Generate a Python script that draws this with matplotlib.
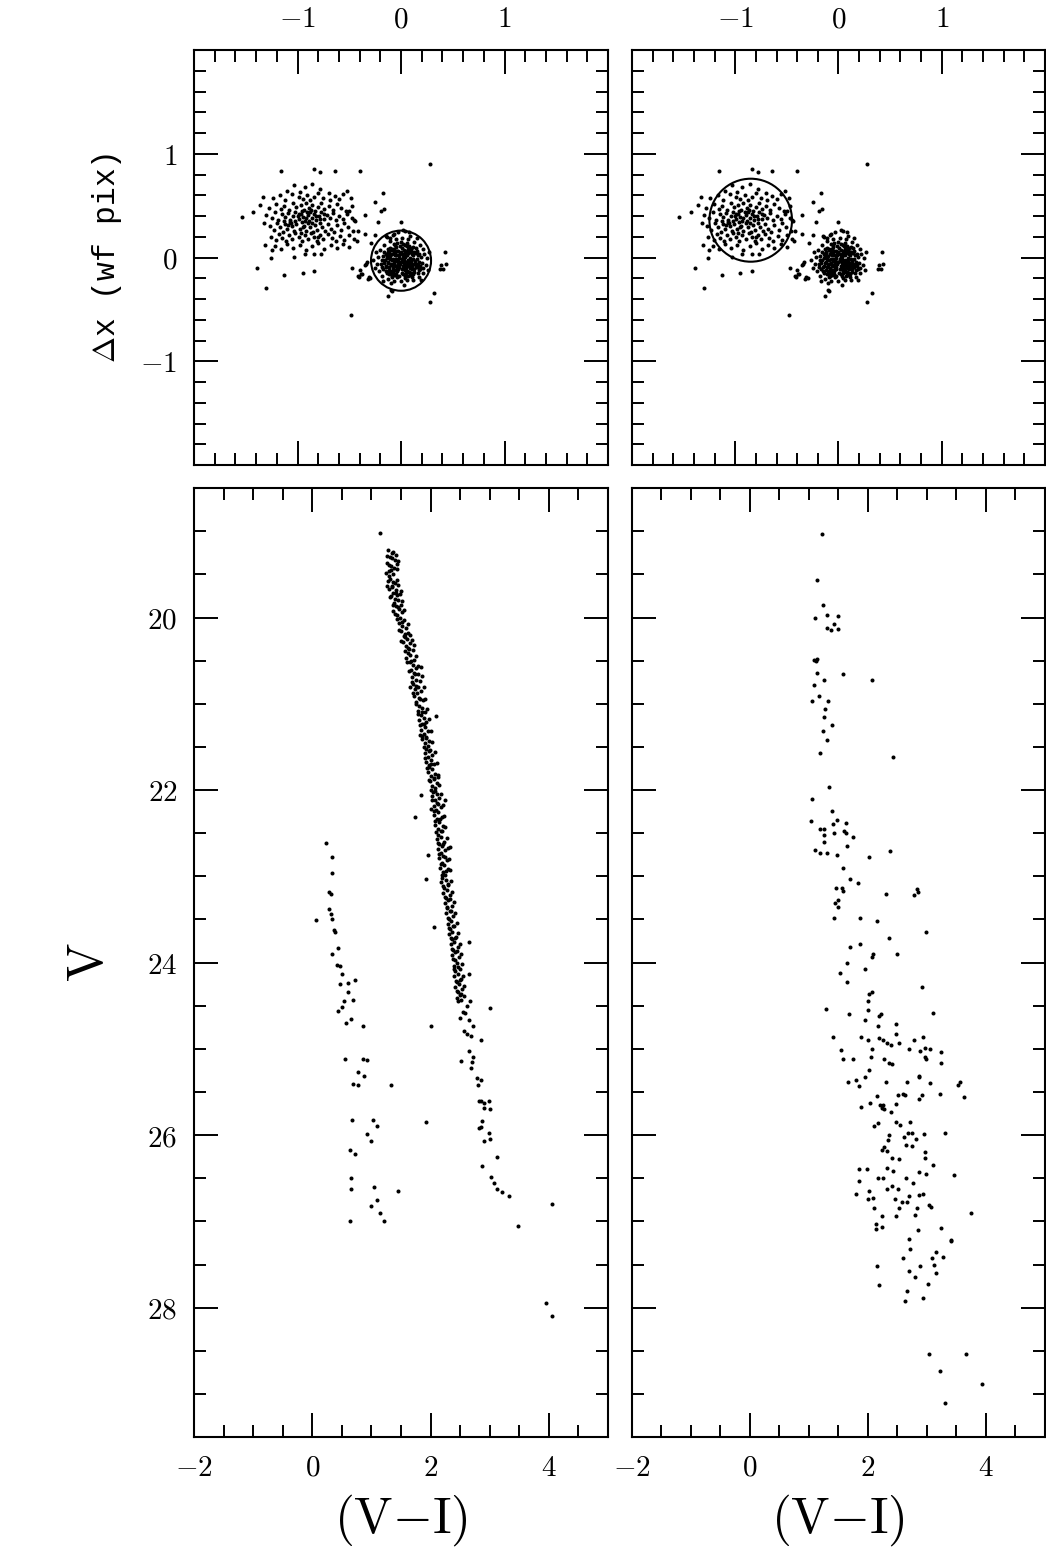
import matplotlib
matplotlib.use("Agg")
import matplotlib.pyplot as plt
from matplotlib.ticker import MultipleLocator, FuncFormatter

plt.rcParams['mathtext.fontset'] = 'cm'
plt.rcParams['font.family'] = ['DejaVu Serif']

# ---------------- top panels: offsets (same stars in both panels) ----------------
dx_loose = [0.28, -1.16, -0.84, -0.78, -0.64, -0.40, -1.54, -1.43, -1.33, -1.36, -1.32, -1.31, -1.25,
            -1.26, -1.39, -1.30, -1.13, -0.95, -0.84, -1.03, -0.93, -0.84, -0.77, -0.48, -0.47, -0.42,
            -0.39, -0.40, -0.35, -0.34, -0.31, -0.30, -0.35, -0.35, -0.42, -0.43, -0.45, -0.50, -0.25,
            -0.17, -0.19, -0.16, -0.22, -0.29, -0.25, -0.13, -0.09, 0.28, 0.32, 0.38, 0.39, 0.42, 0.00,
            0.02, 0.08, -0.15, -0.11, -0.07, -0.03, 0.04, 0.43, 0.41, -0.10, -0.32, -0.33, -0.41, -0.38]
dy_loose = [0.90, 0.83, 0.85, 0.82, 0.83, 0.83, 0.39, 0.44, 0.58, 0.51, 0.33, 0.125, 0.07,
            0.00, -0.10, -0.29, -0.17, -0.15, -0.125, 0.01, 0.03, 0.03, 0.03, -0.55, -0.10, -0.18,
            -0.16, -0.12, -0.07, -0.06, -0.19, -0.20, 0.41, 0.23, 0.26, 0.16, 0.36, 0.45, 0.54,
            0.62, 0.45, 0.47, 0.34, 0.14, 0.22, -0.37, -0.32, -0.43, -0.34, -0.11, -0.07, 0.05, 0.34,
            0.27, 0.25, 0.21, 0.19, 0.23, 0.25, 0.26, -0.06, -0.11, -0.31, -0.21, -0.04, -0.19, -0.16]

dx_group = [-1.03, -0.93, -0.86, -0.78, -1.10, -0.70, -0.98, -0.52,
            -1.24, -1.17, -1.12, -1.05, -0.99, -0.95, -0.91, -0.88, -0.84, -0.80, -0.75, -0.69, -0.64, -0.60, -0.56, -0.48,
            -1.28, -1.21, -1.16, -1.13, -1.08, -1.04, -1.01, -0.97, -0.94, -0.92, -0.89, -0.86, -0.83, -0.80, -0.77,
            -0.74, -0.70, -0.66, -0.62, -0.58, -0.53, -0.47,
            -1.30, -1.25, -1.22, -1.19, -1.15, -1.12, -1.09, -1.07, -1.04, -1.02, -0.99, -0.97, -0.95, -0.93, -0.90,
            -0.88, -0.86, -0.84, -0.82, -0.79, -0.77, -0.74, -0.72, -0.69, -0.66, -0.63, -0.60, -0.56, -0.52, -0.47, -0.44,
            -1.27, -1.23, -1.20, -1.17, -1.14, -1.12, -1.10, -1.07, -1.05, -1.03, -1.01, -0.98, -0.96, -0.94, -0.92,
            -0.90, -0.88, -0.85, -0.83, -0.81, -0.78, -0.76, -0.73, -0.71, -0.68, -0.65, -0.62, -0.58, -0.55, -0.51, -0.46,
            -1.26, -1.21, -1.18, -1.15, -1.11, -1.08, -1.05, -1.02, -0.99, -0.96, -0.93, -0.90, -0.87, -0.84, -0.81,
            -0.78, -0.75, -0.71, -0.67, -0.63, -0.59, -0.55, -0.50, -0.45,
            -1.22, -1.16, -1.10, -1.04, -0.98, -0.92, -0.86, -0.80, -0.74, -0.68, -0.62, -0.56, -0.50,
            -1.00, -0.96, -0.92, -0.89, -1.06, -0.99, -0.87, -1.09, -0.95, -0.82, -0.78, -1.02, -0.91, -0.86, -0.97,
            -0.80, -1.13, -0.74]
dy_group = [0.70, 0.68, 0.71, 0.66, 0.64, 0.62, 0.63, 0.64,
            0.57, 0.60, 0.55, 0.61, 0.58, 0.56, 0.60, 0.55, 0.58, 0.62, 0.57, 0.55, 0.59, 0.56, 0.61, 0.57,
            0.48, 0.52, 0.47, 0.50, 0.46, 0.53, 0.49, 0.51, 0.46, 0.53, 0.48, 0.51, 0.45, 0.49, 0.53,
            0.47, 0.50, 0.46, 0.52, 0.48, 0.45, 0.50,
            0.41, 0.38, 0.44, 0.36, 0.42, 0.39, 0.43, 0.36, 0.40, 0.44, 0.37, 0.42, 0.39, 0.35, 0.41,
            0.44, 0.38, 0.42, 0.36, 0.40, 0.44, 0.37, 0.41, 0.38, 0.43, 0.36, 0.40, 0.37, 0.42, 0.38, 0.35,
            0.30, 0.27, 0.33, 0.29, 0.25, 0.32, 0.28, 0.34, 0.30, 0.26, 0.32, 0.28, 0.34, 0.30, 0.26,
            0.33, 0.29, 0.25, 0.31, 0.27, 0.33, 0.29, 0.26, 0.32, 0.28, 0.25, 0.31, 0.27, 0.33, 0.29, 0.26,
            0.20, 0.17, 0.23, 0.19, 0.16, 0.22, 0.18, 0.24, 0.20, 0.16, 0.22, 0.18, 0.24, 0.20, 0.16,
            0.22, 0.18, 0.23, 0.19, 0.16, 0.21, 0.17, 0.22, 0.18,
            0.11, 0.08, 0.13, 0.09, 0.12, 0.07, 0.11, 0.14, 0.08, 0.12, 0.09, 0.13, 0.10,
            0.40, 0.45, 0.38, 0.35, 0.33, 0.42, 0.46, 0.31, 0.29, 0.40, 0.37, 0.35, 0.44, 0.33, 0.24,
            0.20, 0.35, 0.42]

dx_core = [0.00, 0.03, -0.03, 0.05, -0.05, 0.02, -0.02, 0.07, -0.07, 0.01, -0.01, 0.06, -0.06, 0.08, -0.08,
           0.04, -0.04, 0.09, -0.09, 0.00, 0.03, -0.03, 0.05, -0.05, 0.02, -0.02, 0.07, -0.07, 0.10, -0.10,
           0.01, -0.01, 0.04, -0.04, 0.06, -0.06,
           0.12, 0.14, 0.11, 0.13, 0.16, 0.15, 0.17, 0.10, 0.08, 0.04, -0.01, -0.05, -0.09, -0.12, -0.14,
           -0.13, -0.15, -0.12, -0.10, -0.06, -0.02, 0.02, 0.07, 0.10, 0.13, 0.18, 0.19, 0.15, 0.12, 0.06,
           0.00, -0.07, -0.11, -0.16, -0.18, -0.17, -0.14, -0.09, 0.04, 0.11, 0.16, 0.20, 0.09, -0.08, 0.14,
           -0.13, -0.11, 0.11, 0.08, -0.04, 0.02, -0.15, 0.17, -0.19, 0.21,
           0.22, 0.24, 0.21, 0.18, 0.13, 0.07, 0.01, -0.05, -0.11, -0.16, -0.20, -0.22, -0.23, -0.21, -0.18,
           -0.13, -0.07, 0.00, 0.06, 0.12, 0.17, 0.21, 0.25, 0.26, -0.25, -0.24, 0.09, -0.08, 0.19, -0.17,
           0.27, -0.27, 0.03, -0.10, 0.15, -0.14,
           0.015, -0.015, 0.035, -0.035, 0.055, -0.055, 0.075, -0.075, 0.095, -0.095, 0.115, -0.115, 0.135, -0.135,
           0.025, -0.025, 0.045, -0.045, 0.085, -0.085, 0.105, -0.105, 0.125, -0.125, 0.145, -0.145, 0.065, -0.065,
           0.005, 0.155, -0.155, 0.025, -0.025, 0.065, -0.065, 0.045, -0.045, 0.085, -0.085, 0.105, -0.105, 0.125,
           -0.125, 0.015, -0.015, 0.035, -0.035, 0.055, -0.055, 0.075, -0.075, 0.165, -0.165, 0.005, 0.095, -0.095,
           0.115, -0.115, 0.035, -0.035, 0.145, -0.145, 0.175, -0.175, 0.185, -0.185, 0.055, -0.055, 0.085, -0.085]
dy_core = [-0.04, -0.02, -0.06, -0.07, -0.01, 0.01, -0.09, -0.03, -0.05, -0.11, 0.03, 0.02, 0.02, -0.08, -0.10,
           -0.12, -0.13, 0.00, -0.02, 0.05, -0.05, -0.03, -0.10, -0.08, -0.08, 0.00, 0.04, 0.05, -0.05, -0.07,
           -0.01, -0.06, 0.04, 0.06, -0.13, -0.12,
           -0.01, -0.06, 0.05, -0.11, 0.02, -0.09, -0.04, 0.09, 0.11, 0.12, 0.11, 0.10, 0.08, 0.04, 0.00,
           -0.05, -0.09, -0.12, -0.15, -0.17, -0.18, -0.16, -0.18, -0.15, -0.14, -0.08, 0.01, 0.06, 0.10, 0.14,
           0.15, 0.13, 0.09, 0.05, -0.02, -0.11, -0.15, -0.19, -0.20, -0.19, -0.15, -0.05, 0.06, -0.14, 0.09,
           0.08, -0.01, -0.08, -0.14, 0.14, 0.13, -0.13, -0.12, -0.06, -0.10,
           0.03, -0.07, 0.08, 0.12, 0.15, 0.18, 0.19, 0.18, 0.16, 0.12, 0.07, 0.01, -0.06, -0.13, -0.18,
           -0.21, -0.23, -0.23, -0.22, -0.22, -0.19, -0.15, 0.00, -0.12, -0.10, 0.05, 0.21, 0.22, -0.22, -0.23,
           0.05, -0.02, -0.26, -0.25, 0.19, 0.20,
           -0.035, -0.045, 0.005, -0.085, -0.045, -0.035, -0.065, -0.015, -0.035, -0.065, 0.025, -0.095, -0.035, 0.015,
           0.075, 0.065, -0.145, -0.155, 0.055, 0.035, -0.115, -0.125, 0.055, 0.055, -0.095, -0.085, 0.085, 0.085,
           -0.145, -0.015, -0.025, -0.115, -0.115, -0.025, -0.075, 0.035, 0.025, -0.105, -0.125, 0.035, 0.015, -0.065,
           -0.045, 0.035, 0.025, -0.095, -0.115, 0.065, 0.055, -0.135, -0.145, -0.065, -0.055, 0.095, 0.085, 0.075,
           -0.155, -0.155, -0.175, -0.185, 0.045, 0.035, 0.035, 0.015, -0.115, -0.095, 0.115, 0.125, -0.165, -0.175]

# circles: (centre x, centre y, radius)
circle_left = (0.0, -0.03, 0.29)
circle_right = (-0.85, 0.36, 0.40)

# ---------------- bottom left CMD: stars inside left circle ----------------
vi_ms = [1.28, 1.35, 1.31, 1.40, 1.26, 1.33, 1.38, 1.29, 1.36, 1.43, 1.30, 1.41,
         1.32, 1.28, 1.39, 1.35, 1.45, 1.30, 1.42, 1.36, 1.48, 1.33, 1.40, 1.45, 1.38, 1.50, 1.42, 1.47, 1.37,
         1.52, 1.44, 1.49, 1.34, 1.43,
         1.55, 1.47, 1.52, 1.58, 1.50, 1.62, 1.55, 1.60, 1.53, 1.66, 1.58, 1.63, 1.70, 1.61, 1.66, 1.59, 1.72,
         1.57, 1.68,
         1.65, 1.70, 1.75, 1.67, 1.72, 1.79, 1.69, 1.76, 1.82, 1.71, 1.78, 1.74, 1.84, 1.77, 1.72, 1.81, 1.87,
         1.76, 1.83, 1.66,
         1.80, 1.85, 1.78, 1.90, 1.83, 1.88, 1.80, 1.93, 1.86, 1.90, 1.83, 1.96, 1.88, 1.92, 1.86, 1.98, 1.91,
         1.95, 1.82, 2.09,
         1.93, 1.99, 1.90, 2.03, 1.96, 2.00, 1.93, 2.06, 1.98, 2.02, 1.95, 2.08, 2.01, 2.05, 1.99, 2.10, 2.03,
         2.07, 1.97, 2.12,
         2.04, 2.10, 2.02, 2.14, 2.07, 2.11, 2.05, 2.17, 2.09, 2.13, 2.06, 2.19, 2.11, 2.15, 2.08, 2.21, 2.13,
         2.17, 2.01, 2.25, 1.84, 1.73,
         2.12, 2.18, 2.10, 2.22, 2.15, 2.19, 2.12, 2.25, 2.17, 2.21, 2.14, 2.27, 2.19, 2.23, 2.16, 2.29, 2.21,
         2.25, 2.32, 1.96,
         2.20, 2.26, 2.18, 2.30, 2.23, 2.28, 2.21, 2.33, 2.26, 2.30, 2.24, 2.36, 2.28, 2.32, 2.26, 2.38, 2.31, 1.93,
         2.34, 2.29, 2.40, 2.33, 2.37, 2.31, 2.43, 2.36, 2.40, 2.34, 2.46, 2.38, 2.42, 2.36, 2.48, 2.41, 2.06, 2.65,
         2.44, 2.39, 2.49, 2.42, 2.46, 2.40, 2.51, 2.44, 2.48, 2.42, 2.53, 2.46, 2.50, 2.44, 2.52, 2.65, 2.67,
         1.37, 1.26, 1.45, 1.29, 1.44, 1.25, 1.44, 1.27, 1.50, 1.31, 1.52, 1.36, 1.55, 1.40, 1.43, 1.62, 1.46,
         1.66, 1.50, 1.72, 1.56, 1.76, 1.60, 1.78, 1.63, 1.85, 1.68, 1.88, 1.71, 1.91, 1.75, 1.94, 1.78, 1.97,
         1.82, 2.01, 1.85, 2.03, 1.88, 2.07, 1.91, 2.10, 1.94, 2.13, 1.97, 2.15, 2.00, 2.17, 2.02, 2.21, 2.05,
         2.23, 2.07, 2.25, 2.09, 2.27, 2.12, 2.29, 2.14, 2.31, 2.17, 2.33, 2.19, 2.35, 2.21, 2.37, 2.24, 2.40,
         2.27, 2.42, 2.29, 2.44, 2.31, 2.46, 2.34, 2.49, 2.36, 2.51, 2.38, 2.53, 2.40, 2.55, 2.43, 2.56, 2.45,
         2.57, 2.47,
         1.34, 1.33, 1.36, 1.42, 1.45, 1.52, 1.57, 1.62, 1.67, 1.74, 1.76, 1.82, 1.85, 1.89, 1.93, 1.97, 2.01,
         2.05, 2.08, 2.12, 2.16, 2.19, 2.21, 2.24, 2.26, 2.29, 2.33, 2.35, 2.38, 2.41, 2.44, 2.47, 2.49, 2.52,
         2.61, 2.54, 2.58, 2.49, 2.65, 2.71, 2.57, 2.62, 2.69, 2.86, 2.65, 2.72, 2.70, 2.69, 2.52, 2.78, 2.86,
         2.80, 2.81, 2.86, 2.91, 2.99, 3.01, 2.90, 2.87, 2.82, 2.85, 2.98, 3.00, 2.90, 3.13, 2.87, 3.01,
         3.02, 3.07, 3.12, 3.20, 3.32, 3.48, 4.05, 3.95, 4.05,
         1.15, 2.01, 1.92]
v_ms = [19.22, 19.25, 19.30, 19.33, 19.37, 19.40, 19.43, 19.46, 19.49, 19.38, 19.52, 19.27,
        19.55, 19.58, 19.60, 19.63, 19.62, 19.67, 19.68, 19.71, 19.73, 19.75, 19.78, 19.80, 19.83, 19.85, 19.87,
        19.90, 19.92, 19.94, 19.97, 20.00, 19.65, 19.74,
        20.03, 20.06, 20.10, 20.12, 20.16, 20.18, 20.21, 20.25, 20.28, 20.30, 20.33, 20.36, 20.38, 20.41, 20.44,
        20.47, 20.49, 20.23, 20.26,
        20.52, 20.55, 20.58, 20.61, 20.64, 20.66, 20.69, 20.72, 20.74, 20.77, 20.80, 20.83, 20.85, 20.88, 20.91,
        20.93, 20.96, 20.98, 20.57, 20.80,
        21.02, 21.05, 21.08, 21.10, 21.13, 21.16, 21.19, 21.21, 21.24, 21.27, 21.30, 21.32, 21.35, 21.38, 21.41,
        21.43, 21.46, 21.49, 21.36, 21.14,
        21.52, 21.54, 21.57, 21.59, 21.62, 21.65, 21.68, 21.70, 21.73, 21.76, 21.79, 21.81, 21.84, 21.87, 21.90,
        21.92, 21.95, 21.98, 21.71, 21.85,
        22.02, 22.04, 22.07, 22.09, 22.12, 22.15, 22.18, 22.20, 22.23, 22.26, 22.29, 22.31, 22.34, 22.37, 22.40,
        22.42, 22.45, 22.48, 22.22, 22.12, 22.06, 22.31,
        22.52, 22.54, 22.57, 22.60, 22.62, 22.65, 22.68, 22.70, 22.73, 22.76, 22.79, 22.81, 22.84, 22.87, 22.90,
        22.92, 22.95, 22.98, 22.66, 22.75,
        23.02, 23.04, 23.07, 23.10, 23.13, 23.16, 23.19, 23.22, 23.25, 23.28, 23.31, 23.34, 23.37, 23.40, 23.43,
        23.46, 23.49, 23.03,
        23.52, 23.55, 23.58, 23.61, 23.64, 23.67, 23.70, 23.73, 23.76, 23.79, 23.82, 23.85, 23.88, 23.91, 23.94,
        23.97, 23.59, 23.76,
        24.01, 24.04, 24.07, 24.10, 24.13, 24.16, 24.19, 24.22, 24.25, 24.28, 24.31, 24.34, 24.38, 24.41, 24.43,
        24.13, 24.44,
        19.24, 19.29, 19.34, 19.39, 19.44, 19.48, 19.57, 19.64, 19.69, 19.76, 19.81, 19.86, 19.91, 19.96, 20.02,
        20.08, 20.14, 20.20, 20.27, 20.32, 20.39, 20.45, 20.51, 20.56, 20.62, 20.68, 20.75, 20.81, 20.87, 20.94,
        21.00, 21.06, 21.12, 21.18, 21.25, 21.31, 21.37, 21.44, 21.50, 21.56, 21.63, 21.69, 21.75, 21.82, 21.88,
        21.94, 22.00, 22.05, 22.11, 22.17, 22.24, 22.30, 22.36, 22.43, 22.49, 22.55, 22.61, 22.67, 22.74, 22.80,
        22.86, 22.93, 22.99, 23.05, 23.11, 23.18, 23.24, 23.30, 23.36, 23.42, 23.48, 23.54, 23.60, 23.66, 23.72,
        23.78, 23.84, 23.90, 23.96, 24.02, 24.08, 24.15, 24.21, 24.27, 24.33, 24.39, 24.44,
        19.31, 19.45, 19.59, 19.72, 19.88, 20.05, 20.19, 20.35, 20.50, 20.65, 20.79, 20.95, 21.09, 21.23, 21.40,
        21.55, 21.70, 21.86, 22.01, 22.16, 22.33, 22.47, 22.63, 22.78, 22.94, 23.09, 23.26, 23.40, 23.57, 23.71,
        23.87, 24.05, 24.20, 24.36,
        24.50, 24.57, 24.58, 24.64, 24.67, 24.73, 24.79, 24.83, 24.85, 24.90, 25.02, 25.10, 25.15, 25.22, 25.14,
        25.34, 25.36, 25.42, 25.61, 25.60, 25.63, 25.60, 25.70, 25.68, 25.84, 25.92, 25.90, 25.98, 26.04, 26.07,
        26.25, 26.36, 24.53,
        26.48, 26.56, 26.62, 26.66, 26.70, 27.05, 26.80, 27.95, 28.10,
        19.02, 24.73, 25.85]

vi_blue = [0.23, 0.33, 0.34, 0.29, 0.31, 0.06, 0.29, 0.31, 0.34, 0.37, 0.38, 0.43, 0.33, 0.41, 0.46, 0.51,
           0.47, 0.61, 0.72, 0.61, 0.53, 0.69, 0.50, 0.43, 0.66, 0.57, 0.85, 0.56, 0.86, 0.92, 0.78, 0.88,
           0.69, 0.77, 1.33, 0.67, 1.02, 1.10, 0.93, 1.00, 0.64, 0.72, 0.65, 0.66, 0.63, 1.05, 1.10, 1.00,
           1.15, 1.22, 1.45]
v_blue = [22.61, 22.78, 22.96, 23.18, 23.20, 23.51, 23.38, 23.44, 23.49, 23.62, 23.65, 23.83, 23.90, 24.03,
          24.04, 24.13, 24.25, 24.24, 24.20, 24.34, 24.45, 24.43, 24.52, 24.56, 24.65, 24.70, 24.73, 25.12,
          25.12, 25.13, 25.27, 25.31, 25.41, 25.42, 25.42, 25.83, 25.83, 25.89, 25.99, 26.07, 26.17, 26.22,
          26.50, 26.62, 27.00, 26.60, 26.75, 26.82, 26.90, 27.00, 26.65]

# ---------------- bottom right CMD: stars inside right circle ----------------
vi_r = [1.22, 1.14, 1.24, 1.10, 1.31, 1.50, 1.43, 1.31, 1.38, 1.50, 1.09, 1.12, 1.14, 1.14, 1.58, 2.06,
        1.25, 1.09, 1.17, 1.05, 1.32, 1.27, 1.26, 1.39, 1.23, 1.31, 1.18, 2.42, 1.34, 1.05, 1.39, 1.04,
        1.41, 1.47, 1.62, 1.19, 1.26, 1.43, 1.26, 1.59, 1.62, 1.75, 1.25, 1.64, 1.10, 1.19, 1.31, 1.48,
        2.02, 2.38, 1.57, 1.69, 1.83, 2.30, 2.83, 2.84, 2.78, 1.45, 1.56, 1.57, 1.49, 1.44, 1.50,
        1.43, 1.87, 2.16, 2.98, 2.35, 1.69, 1.86, 2.09, 2.06, 2.50, 1.64, 1.95, 1.52, 1.64, 2.91, 2.06,
        2.02, 2.00, 1.29, 2.00, 3.10, 1.68, 2.19, 2.22, 1.95, 2.17, 2.48, 1.40, 1.89, 2.00, 2.19, 2.25,
        2.32, 2.39, 2.52, 2.48, 2.78, 2.93, 1.54, 2.07, 2.69, 2.89, 2.97, 3.05, 3.23, 1.58, 1.75, 2.05,
        2.28, 2.35, 2.41, 2.97, 2.99, 3.23, 2.02, 2.86, 2.87, 1.95, 1.66, 1.79, 1.85, 2.31, 2.66, 3.05,
        3.52, 3.56, 3.63, 3.22, 2.15, 2.51, 2.59, 2.62, 2.87, 2.92, 2.03, 1.88, 2.20, 2.23, 2.25, 2.28,
        2.48, 2.39, 2.11, 2.17, 2.47, 2.55, 2.71, 3.31, 2.36, 2.34, 2.61, 2.68, 2.75, 2.82, 2.95, 2.27,
        2.24, 2.33, 2.64, 2.75, 2.96, 2.96, 2.41, 2.52, 3.10, 3.46, 1.85, 1.98, 2.32, 2.43, 1.84, 2.17,
        2.26, 2.65, 2.76, 2.86, 2.98, 1.80, 2.02, 2.08, 2.00, 2.32, 2.41, 2.51, 2.69, 2.87, 2.94, 2.46,
        2.58, 2.66, 3.04, 3.06, 3.74, 2.11, 2.52, 2.83, 2.24, 2.47, 2.79, 2.14, 2.14, 2.23, 2.85, 3.24,
        3.40, 3.40, 2.70, 2.72, 3.16, 3.08, 3.27, 2.59, 2.15, 2.89, 3.12, 2.69, 3.15, 2.79, 2.18, 3.01,
        2.66, 2.62, 2.94, 3.04, 3.67, 3.22, 3.94, 3.30]
v_r = [19.03, 19.56, 19.86, 20.00, 19.97, 19.98, 20.08, 20.12, 20.15, 20.13, 20.49, 20.50, 20.48, 20.64,
       20.66, 20.72, 20.72, 20.78, 20.91, 20.97, 20.97, 21.06, 21.15, 21.25, 21.31, 21.42, 21.57, 21.62,
       21.97, 22.10, 22.24, 22.36, 22.39, 22.35, 22.38, 22.45, 22.45, 22.50, 22.52, 22.48, 22.50, 22.54,
       22.60, 22.65, 22.69, 22.73, 22.73, 22.75, 22.78, 22.71, 22.90, 23.03, 23.08, 23.20, 23.15, 23.18,
       23.22, 23.13, 23.14, 23.17, 23.27, 23.31, 23.35,
       23.48, 23.48, 23.52, 23.65, 23.71, 23.82, 23.79, 23.90, 23.93, 23.90, 24.01, 24.07, 24.12, 24.23,
       24.28, 24.34, 24.36, 24.45, 24.54, 24.55, 24.59, 24.60, 24.62, 24.60, 24.66, 24.74, 24.71, 24.86,
       24.86, 24.90, 24.87, 24.90, 24.93, 24.96, 24.93, 24.83, 24.90, 24.86, 25.01, 25.00, 25.00, 25.02,
       24.99, 25.00, 25.04, 25.12, 25.12, 25.10, 25.12, 25.16, 25.17, 25.10, 25.12, 25.16, 25.24, 25.31,
       25.33, 25.33, 25.38, 25.36, 25.43, 25.38, 25.38, 25.40, 25.42, 25.38, 25.56, 25.52, 25.55, 25.54,
       25.52, 25.54, 25.58, 25.53, 25.63, 25.67, 25.65, 25.68, 25.65, 25.70, 25.64, 25.73, 25.89, 25.86,
       25.85, 25.88, 25.85, 25.98, 26.00, 26.06, 26.02, 25.97, 25.98, 26.05, 25.99, 26.14, 26.17, 26.18,
       26.12, 26.13, 26.19, 26.26, 26.27, 26.28, 26.35, 26.46, 26.39, 26.39, 26.38, 26.41, 26.53, 26.50,
       26.50, 26.50, 26.56, 26.43, 26.45, 26.68, 26.65, 26.73, 26.74, 26.62, 26.59, 26.62, 26.71, 26.69,
       26.68, 26.74, 26.78, 26.77, 26.81, 26.83, 26.90, 26.85, 26.85, 26.85, 26.94, 26.94, 26.93, 27.03,
       27.09, 27.07, 27.10, 27.08, 27.21, 27.23, 27.20, 27.32, 27.36, 27.42, 27.41, 27.43, 27.52, 27.52,
       27.51, 27.57, 27.60, 27.65, 27.74, 27.73, 27.81, 27.92, 27.89, 28.54, 28.54, 28.73, 28.89, 29.10]

top_xticks = [-1, 0, 1]
top_yticks = [-1, 0, 1]
cmd_xticks = [-2, 0, 2, 4]
cmd_yticks = [20, 22, 24, 26, 28]


def mathfmt(v, pos):
    return r'$%d$' % round(v)


def style(ax, minor_x, minor_y):
    ax.xaxis.set_minor_locator(MultipleLocator(minor_x))
    ax.yaxis.set_minor_locator(MultipleLocator(minor_y))
    ax.tick_params(which='both', direction='in', top=True, right=True, width=1.4, labelsize=21, pad=12)
    ax.tick_params(which='major', length=17)
    ax.tick_params(which='minor', length=8.5)
    ax.xaxis.set_major_formatter(FuncFormatter(mathfmt))
    ax.yaxis.set_major_formatter(FuncFormatter(mathfmt))
    for s in ax.spines.values():
        s.set_linewidth(1.5)


fig = plt.figure(figsize=(10.46, 15.6), dpi=100)
ax_tl = fig.add_axes([0.1855, 0.7019, 0.3958, 0.2660])
ax_tr = fig.add_axes([0.6042, 0.7019, 0.3948, 0.2660])
ax_bl = fig.add_axes([0.1855, 0.0788, 0.3958, 0.6083])
ax_br = fig.add_axes([0.6042, 0.0788, 0.3948, 0.6083])

dx_all = dx_loose + dx_group + dx_core
dy_all = dy_loose + dy_group + dy_core
ms = 2.9

for ax, circ in ((ax_tl, circle_left), (ax_tr, circle_right)):
    ax.plot(dx_all, dy_all, 'o', ms=ms, mec='none', color='black')
    ax.add_patch(plt.Circle(circ[:2], circ[2], fill=False, lw=1.5, color='black'))
    ax.set_xlim(-2, 2)
    ax.set_ylim(-2, 2)
    ax.set_xticks(top_xticks)
    ax.set_yticks(top_yticks)
    style(ax, 0.2, 0.2)
    ax.tick_params(labelbottom=False, labeltop=True, labelleft=(ax is ax_tl))

ax_tl.set_ylabel(r'$\Delta$x (wf pix)', fontsize=22.5, family='Liberation Mono', labelpad=12)

ax_bl.plot(vi_ms, v_ms, 'o', ms=ms, mec='none', color='black')
ax_bl.plot(vi_blue, v_blue, 'o', ms=ms, mec='none', color='black')
ax_br.plot(vi_r, v_r, 'o', ms=ms, mec='none', color='black')

for ax in (ax_bl, ax_br):
    ax.set_xlim(-2, 5)
    ax.set_ylim(29.5, 18.5)
    ax.set_xticks(cmd_xticks)
    ax.set_yticks(cmd_yticks)
    style(ax, 0.5, 0.5)
    ax.tick_params(labelleft=(ax is ax_bl))
    ax.set_xlabel(r'$(\mathrm{V{-}I})$', fontsize=37, labelpad=8)

ax_bl.set_ylabel(r'$\mathrm{V}$', fontsize=37, rotation=90, labelpad=24)

fig.savefig('out.png', dpi=100)
